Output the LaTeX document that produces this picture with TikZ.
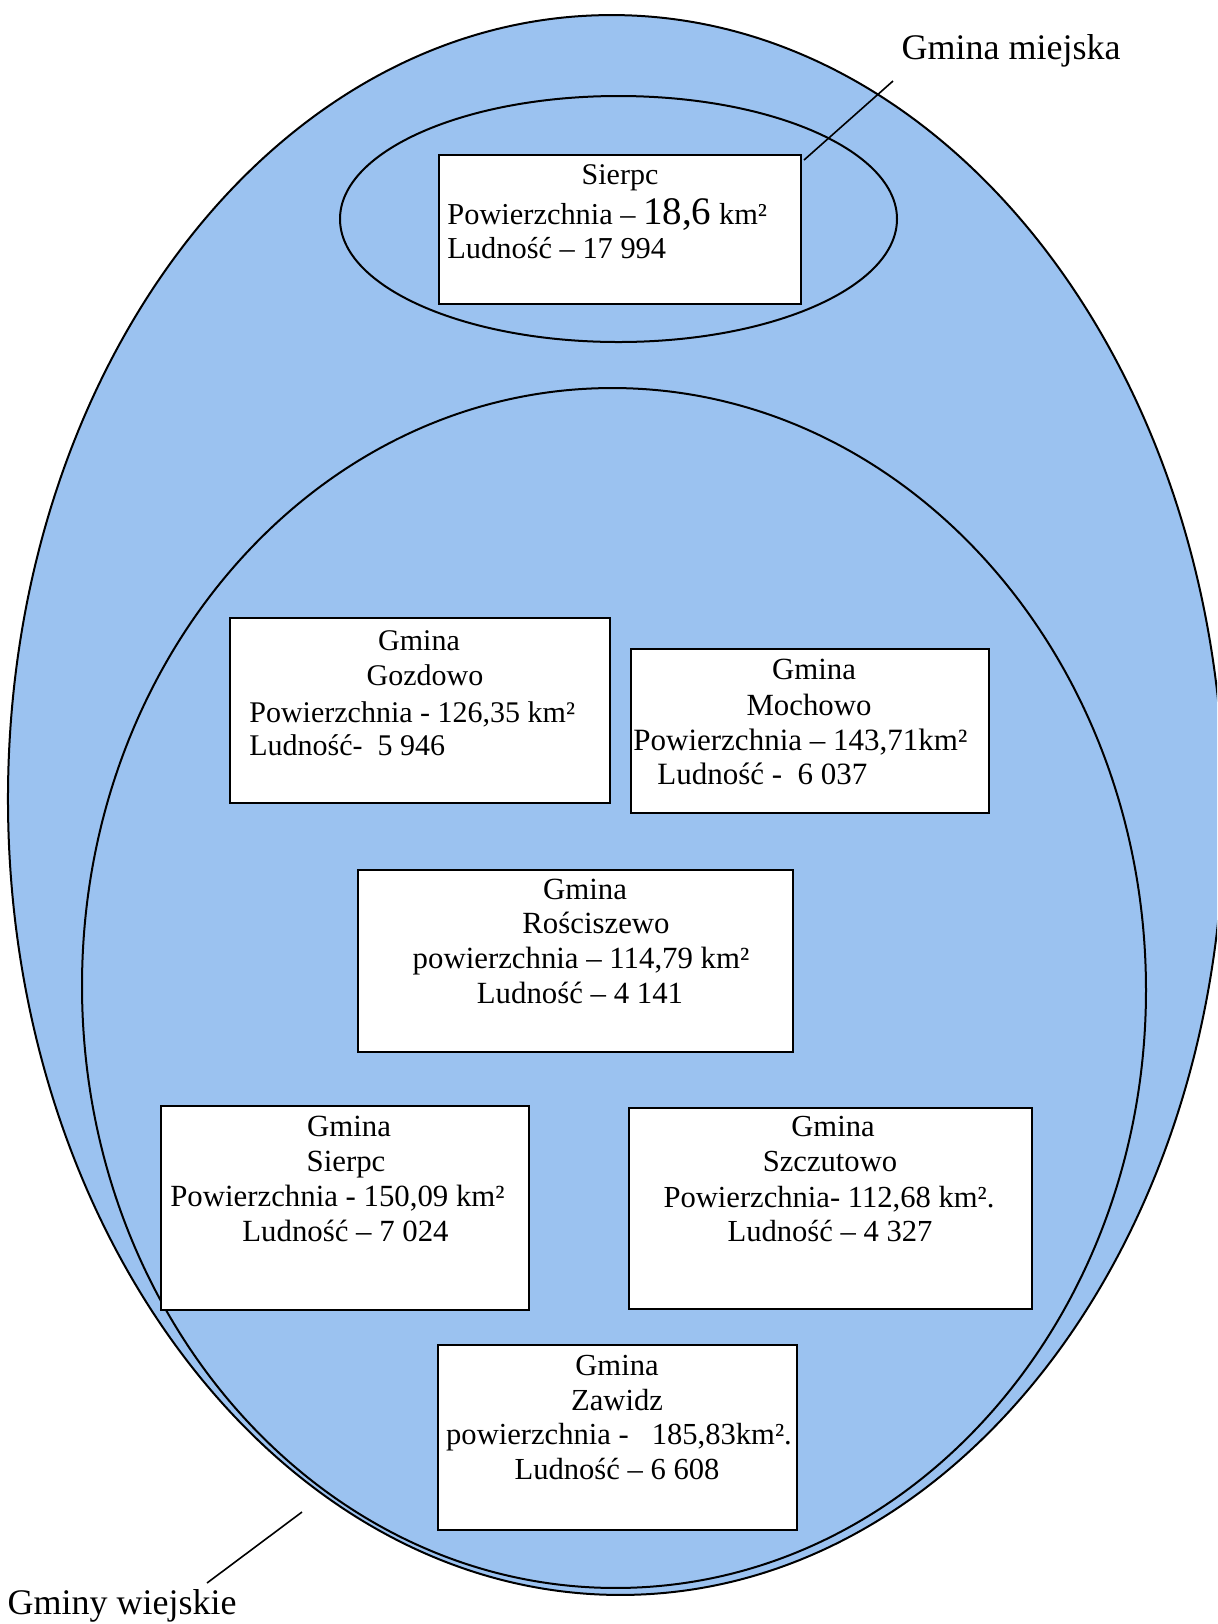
\documentclass[tikz,border=0pt]{standalone}
\usepackage{fontspec}
\setmainfont{Liberation Serif}
\usetikzlibrary{calc}
\definecolor{fillblue}{RGB}{155,194,240}
\begin{document}
\begin{tikzpicture}[x=0.5pt,y=-0.5pt,
  shapeline/.style={draw=black, line width=1pt},
  boxnode/.style={draw=black, line width=1pt, fill=white, rectangle, inner sep=0pt},
  ln/.style={anchor=base, inner sep=0pt},
  lnl/.style={anchor=base west, inner sep=0pt},
  fa/.style={font=\fontsize{15}{17.5}\selectfont},
  fb/.style={font=\fontsize{15.4}{17.5}\selectfont},
  lbl/.style={anchor=base, inner sep=0pt, font=\fontsize{18}{21}\selectfont},
  leader/.style={draw=black, line width=0.8pt}]
\useasboundingbox (0,0) rectangle (1217,1624);
\fill[white] (0,0) rectangle (1217,1624);
\clip (0,0) rectangle (1217,1624);
% ellipses
\draw[shapeline, fill=fillblue, rotate around={0.8:(616,805)}] (616,805) ellipse [x radius=304pt, y radius=395pt];
\draw[shapeline, rotate around={0.8:(614,988)}] (614,988) ellipse [x radius=266pt, y radius=300pt];
\draw[shapeline] (618.5,219) ellipse [x radius=139.25pt, y radius=61.5pt];
% boxes
\node[boxnode, minimum width=181pt, minimum height=74.5pt] (sbox) at (620,229.5) {};
\node[boxnode, minimum width=190pt, minimum height=92.5pt] (goz) at (420,710.5) {};
\node[boxnode, minimum width=179pt, minimum height=82pt] (moch) at (810,731) {};
\node[boxnode, minimum width=217.5pt, minimum height=91pt] (ros) at (575.5,961) {};
\node[boxnode, minimum width=184pt, minimum height=102pt] (wsie) at (345,1208) {};
\node[boxnode, minimum width=201.5pt, minimum height=100.5pt] (szcz) at (830.5,1208.5) {};
\node[boxnode, minimum width=179.5pt, minimum height=92.5pt] (zaw) at (617.5,1437.5) {};
% Sierpc (miejska)
\node[ln, fa] (s1) at (620,184) {Sierpc};
\node[lnl, font=\fontsize{15.2}{17.5}\selectfont] (s2) at (447,224) {Powierzchnia – {\fontsize{19.5}{20}\selectfont 18,6} km²};
\node[lnl, font=\fontsize{15.2}{17.5}\selectfont] (s3) at (447,258) {Ludność – 17 994};
% Gozdowo
\node[ln, fa] (g1) at (419,650) {Gmina};
\node[ln, fa] (g2) at (425,685) {Gozdowo};
\node[lnl, fa] (g3) at (249,722) {Powierzchnia - 126,35 km²};
\node[lnl, fa] (g4) at (249,755) {Ludność-~~5 946};
% Mochowo
\node[ln, fb] (m1) at (814,679) {Gmina};
\node[ln, fb] (m2) at (809,715) {Mochowo};
\node[lnl, font=\fontsize{15.5}{17.5}\selectfont] (m3) at (633,750) {Powierzchnia – 143,71km²};
\node[lnl, font=\fontsize{15.5}{17.5}\selectfont] (m4) at (657,784) {Ludność -~~6 037};
% Rosciszewo
\node[ln, fb] (r1) at (585,899) {Gmina};
\node[ln, fb] (r2) at (596,933) {Rościszewo};
\node[ln, fb] (r3) at (581,968) {powierzchnia – 114,79 km²};
\node[ln, fb] (r4) at (580,1003) {Ludność – 4 141};
% Sierpc (wiejska)
\node[ln, fb] (w1) at (349,1136) {Gmina};
\node[ln, fb] (w2) at (346,1171) {Sierpc};
\node[ln, fb] (w3) at (337.5,1206) {Powierzchnia - 150,09 km²};
\node[ln, fb] (w4) at (345.5,1241) {Ludność – 7 024};
% Szczutowo
\node[ln, font=\fontsize{15.3}{17.5}\selectfont] (z1) at (833,1136) {Gmina};
\node[ln, font=\fontsize{15.3}{17.5}\selectfont] (z2) at (830,1171) {Szczutowo};
\node[ln, font=\fontsize{15.3}{17.5}\selectfont] (z3) at (829,1207) {Powierzchnia- 112,68 km².};
\node[ln, font=\fontsize{15.3}{17.5}\selectfont] (z4) at (830,1241) {Ludność – 4 327};
% Zawidz
\node[ln, font=\fontsize{15.3}{17.5}\selectfont] (a1) at (617,1375) {Gmina};
\node[ln, font=\fontsize{15.3}{17.5}\selectfont] (a2) at (617,1410) {Zawidz};
\node[ln, font=\fontsize{15.3}{17.5}\selectfont] (a3) at (619,1444) {powierzchnia -~~~185,83km².};
\node[ln, font=\fontsize{15.3}{17.5}\selectfont] (a4) at (617,1479) {Ludność – 6 608};
% labels
\node[lbl] (lmiej) at (1011,59) {Gmina miejska};
\node[lbl] (lwiej) at (122,1614) {Gminy wiejskie};
\coordinate (cm) at (893,81);
\coordinate (cw1) at (207,1583);
\coordinate (cw2) at (302,1512);
\draw[leader] (cm) -- ($(sbox.north east)+(2,6)$);
\draw[leader] (cw1) -- (cw2);
\end{tikzpicture}
\end{document}
